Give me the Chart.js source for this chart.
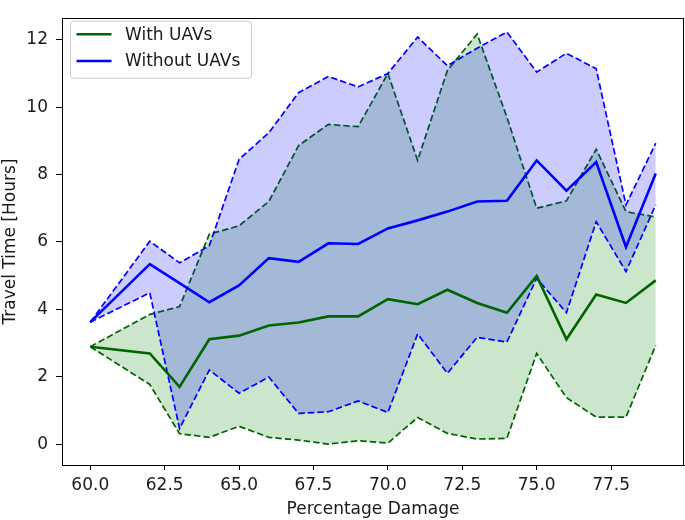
<!DOCTYPE html>
<html>
<head>
<meta charset="utf-8">
<script src="https://cdn.jsdelivr.net/npm/chart.js@4"></script>
<style>
  html, body { margin: 0; padding: 0; background: #fff; }
  #wrap { width: 685px; height: 520px; }
</style>
</head>
<body>
<div id="wrap"><canvas id="c" width="685" height="520"></canvas></div>
<script>
const damage = [60, 62, 63, 64, 65, 66, 67, 68, 69, 70, 71, 72, 73, 74, 75, 76, 77, 78, 79];
const withMean = [2.89, 2.69, 1.70, 3.11, 3.22, 3.52, 3.61, 3.79, 3.79, 4.30, 4.15, 4.58, 4.19, 3.90, 4.99, 3.11, 4.44, 4.19, 4.86];
const withUpper = [2.89, 3.85, 4.08, 6.23, 6.48, 7.20, 8.86, 9.49, 9.42, 11.00, 8.42, 11.09, 12.17, 9.70, 7.00, 7.22, 8.75, 6.90, 6.74];
const withLower = [2.89, 1.77, 0.31, 0.20, 0.53, 0.20, 0.12, 0.00, 0.10, 0.03, 0.79, 0.32, 0.15, 0.17, 2.69, 1.38, 0.80, 0.80, 2.93];
const withoutMean = [3.62, 5.34, 4.78, 4.21, 4.71, 5.52, 5.41, 5.96, 5.94, 6.40, 6.64, 6.90, 7.20, 7.22, 8.42, 7.52, 8.37, 5.85, 8.03];
const withoutUpper = [3.62, 6.02, 5.38, 5.89, 8.45, 9.24, 10.43, 10.91, 10.60, 11.00, 12.08, 11.23, 11.75, 12.23, 11.04, 11.60, 11.14, 7.10, 8.93];
const withoutLower = [3.62, 4.49, 0.46, 2.20, 1.51, 1.99, 0.91, 0.96, 1.28, 0.94, 3.27, 2.10, 3.17, 3.03, 4.92, 3.90, 6.60, 5.12, 7.10];
const xTicks = [60, 62.5, 65, 67.5, 70, 72.5, 75, 77.5];
const yTicks = [0, 2, 4, 6, 8, 10, 12];
const seriesNames = ['With UAVs', 'Without UAVs'];

const GREEN = '#006400';
const BLUE = '#0000ff';
const FONT = 'DejaVu Sans';
const FS = 17;
const LFS = 17;
const TXT = '#1a1a1a';

function pts(ys) { return damage.map((x, i) => ({ x: x, y: ys[i] })); }

const meanStyle = { pointRadius: 0, borderWidth: 2.6, tension: 0, fill: false };
const boundStyle = { pointRadius: 0, borderWidth: 1.7, borderDash: [6.5, 3], tension: 0 };

const frame = {
  id: 'frame',
  afterDraw(chart) {
    const { ctx, chartArea: a } = chart;
    ctx.save();
    ctx.strokeStyle = '#000';
    ctx.lineWidth = 1;
    ctx.strokeRect(Math.round(a.left) + 0.5, Math.round(a.top) + 0.5, Math.round(a.right - a.left) - 1, Math.round(a.bottom - a.top));
    ctx.restore();
  }
};

const legendBox = {
  id: 'legendBox',
  afterDraw(chart) {
    const { ctx, chartArea: a } = chart;
    const x0 = a.left + 8, y0 = a.top + 2.5, w = 181, h = 57;
    ctx.save();
    ctx.beginPath();
    if (ctx.roundRect) ctx.roundRect(x0 + 0.5, y0 + 0.5, w, h, 3); else ctx.rect(x0 + 0.5, y0 + 0.5, w, h);
    ctx.fillStyle = 'rgba(255,255,255,0.8)';
    ctx.fill();
    ctx.strokeStyle = '#cccccc';
    ctx.lineWidth = 1;
    ctx.stroke();
    const cols = [GREEN, BLUE];
    ctx.font = LFS + 'px "' + FONT + '"';
    ctx.textBaseline = 'middle';
    ctx.fillStyle = TXT;
    seriesNames.forEach((name, i) => {
      const yy = y0 + 13.5 + i * 26.8;
      ctx.beginPath();
      ctx.strokeStyle = cols[i];
      ctx.lineWidth = 2.6;
      ctx.moveTo(x0 + 6.5, yy);
      ctx.lineTo(x0 + 41.5, yy);
      ctx.stroke();
      ctx.fillText(name, x0 + 55, yy + 1);
    });
    ctx.restore();
  }
};

new Chart(document.getElementById('c'), {
  type: 'line',
  data: {
    datasets: [
      Object.assign({ label: seriesNames[0], data: pts(withMean), borderColor: GREEN }, meanStyle),
      Object.assign({ label: seriesNames[1], data: pts(withoutMean), borderColor: BLUE }, meanStyle),
      Object.assign({ label: 'without lower', data: pts(withoutLower), borderColor: BLUE, fill: false }, boundStyle),
      Object.assign({ label: 'without upper', data: pts(withoutUpper), borderColor: BLUE, fill: '-1', backgroundColor: 'rgba(0,0,255,0.2)' }, boundStyle),
      Object.assign({ label: 'with lower', data: pts(withLower), borderColor: GREEN, fill: false }, boundStyle),
      Object.assign({ label: 'with upper', data: pts(withUpper), borderColor: GREEN, fill: '-1', backgroundColor: 'rgba(0,128,0,0.2)' }, boundStyle)
    ]
  },
  options: {
    responsive: false,
    animation: false,
    devicePixelRatio: 1,
    layout: { padding: { top: 10, right: 1, left: 0, bottom: 0 } },
    plugins: {
      legend: { display: false },
      tooltip: { enabled: false },
      filler: { propagate: false }
    },
    scales: {
      x: {
        type: 'linear',
        min: 59.05,
        max: 79.95,
        afterBuildTicks: (s) => { s.ticks = xTicks.map(v => ({ value: v })); },
        afterFit: (s) => { s.height = 55; },
        ticks: {
          callback: (v) => Number(v).toFixed(1),
          font: { family: FONT, size: FS },
          color: TXT,
          padding: 5,
          maxRotation: 0,
          autoSkip: false
        },
        grid: { drawOnChartArea: false, drawTicks: true, tickLength: 5, color: '#000' },
        border: { display: true, color: '#000', width: 1 },
        title: { display: true, text: 'Percentage Damage', font: { family: FONT, size: FS }, color: TXT, padding: { top: 0, bottom: 0 } }
      },
      y: {
        type: 'linear',
        min: -0.62,
        max: 12.64,
        afterBuildTicks: (s) => { s.ticks = yTicks.map(v => ({ value: v })); },
        afterFit: (s) => { s.width = 62; },
        ticks: {
          callback: (v) => String(v),
          font: { family: FONT, size: FS },
          color: TXT,
          padding: 8,
          autoSkip: false
        },
        grid: { drawOnChartArea: false, drawTicks: true, tickLength: 6, color: '#000' },
        border: { display: true, color: '#000', width: 1 },
        title: { display: true, text: 'Travel Time [Hours]', font: { family: FONT, size: FS }, color: TXT, padding: { top: 0, bottom: 0 } }
      }
    }
  },
  plugins: [frame, legendBox]
});
</script>
</body>
</html>
